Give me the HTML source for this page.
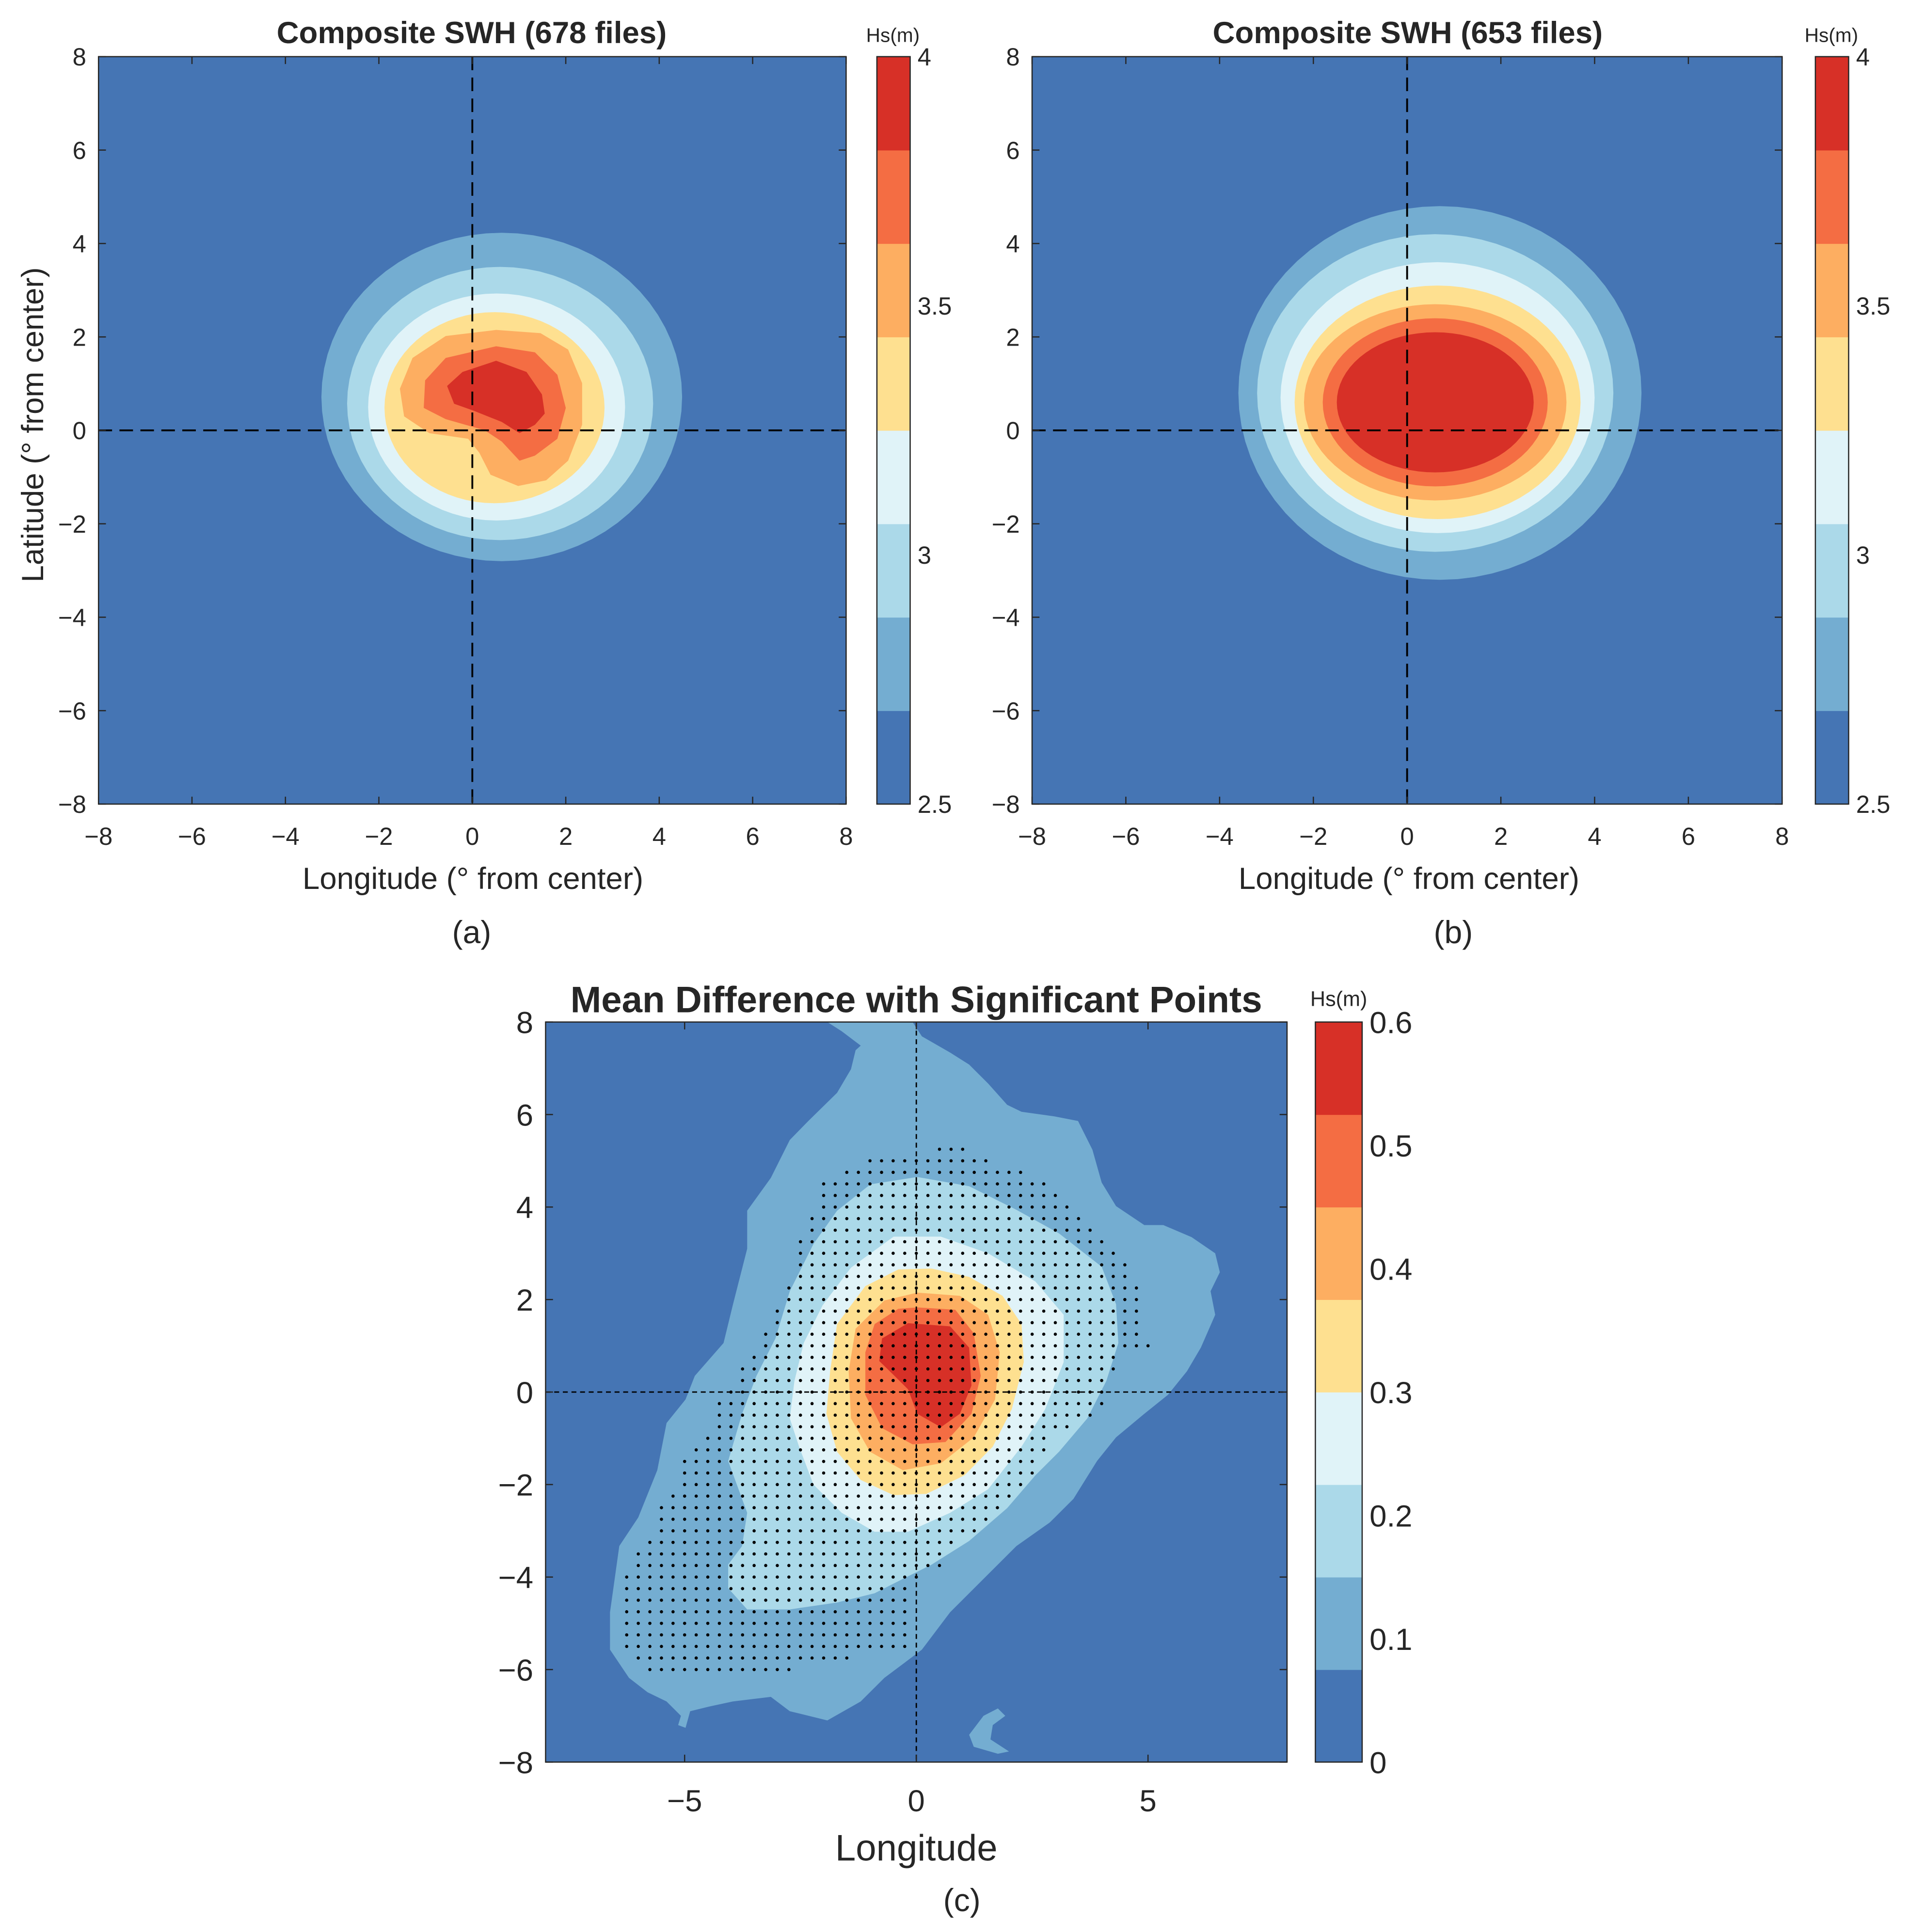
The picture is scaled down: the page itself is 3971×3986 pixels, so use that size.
<!DOCTYPE html>
<html><head><meta charset="utf-8"><style>
html,body{margin:0;padding:0;background:#fff;}
svg{display:block;}
text{font-family:"Liberation Sans",sans-serif;fill:#262626;}
</style></head><body>
<svg id="fig" width="3971" height="3986" viewBox="0 0 1563 1569" preserveAspectRatio="none" xmlns="http://www.w3.org/2000/svg">
<rect x="0" y="0" width="1563" height="1569" fill="#fff"/>
<defs>
<clipPath id="clipA"><rect x="80" y="46" width="607" height="607"/></clipPath>
<clipPath id="clipB"><rect x="838" y="46" width="609" height="607"/></clipPath>
<clipPath id="clipC"><rect x="443" y="830" width="602" height="601"/></clipPath>
</defs>
<g id="root"></g>
</svg>
<script>
// ---- data ----
const colorsAB = ["#4575b4","#74add1","#abd9e9","#e0f3f8","#fee090","#fdae61","#f46d43","#d73027"];
const cbTicksAB = [2.5,3,3.5,4];
const cbTicksC = [0,0.1,0.2,0.3,0.4,0.5,0.6];
const axisTicks = [-8,-6,-4,-2,0,2,4,6,8];
const xTicksC = [-5,0,5];
// Panel a ellipse-like levels: [lonMin, lonMax, latMin, latMax]
const levelsA = [[-3.23,4.49,-2.8,4.23],[-2.68,3.87,-2.35,3.5],[-2.23,3.27,-1.93,2.93],[-1.88,2.83,-1.56,2.53]];
const polyA5 = [[0.51,2.15],[1.46,2.08],[2.05,1.73],[2.35,1.01],[2.35,0.12],[2.05,-0.65],[1.58,-1.07],[0.98,-1.19],[0.39,-0.95],[0.15,-0.48],[-0.09,-0.18],[-0.92,-0.06],[-1.46,0.3],[-1.55,0.89],[-1.28,1.55],[-0.57,2.02]];
const polyA6 = [[0.51,1.8],[1.34,1.67],[1.82,1.19],[2.0,0.48],[1.82,-0.18],[1.34,-0.54],[1.01,-0.65],[0.63,-0.24],[0.27,0],[-0.57,0.24],[-1.04,0.48],[-1.01,1.07],[-0.57,1.55]];
const polyA7 = [[0.51,1.49],[1.16,1.25],[1.49,0.77],[1.55,0.36],[1.34,0.12],[1.01,-0.06],[0.63,0.18],[0.03,0.42],[-0.39,0.57],[-0.54,0.95],[-0.21,1.25]];
// Panel b levels
const levelsB = [[-3.6,5.0,-3.2,4.8],[-3.2,4.4,-2.6,4.2],[-2.7,4.0,-2.2,3.6],[-2.4,3.7,-1.9,3.1],[-2.2,3.4,-1.5,2.7],[-1.8,3.0,-1.2,2.4],[-1.5,2.7,-0.9,2.1]];
// Panel c contours
const polyC1 = [[-1.92,8],[-0.08,8],[0.12,7.69],[0.73,7.34],[1.14,7.08],[1.55,6.67],[1.96,6.21],[2.27,6.06],[2.98,5.96],[3.49,5.86],[3.8,5.24],[4.0,4.53],[4.31,4.02],[4.92,3.61],[5.33,3.61],[5.94,3.35],[6.45,3.0],[6.55,2.59],[6.35,2.18],[6.45,1.67],[6.14,0.96],[5.84,0.45],[5.43,-0.06],[4.92,-0.47],[4.31,-0.98],[3.9,-1.49],[3.39,-2.31],[2.88,-2.82],[2.16,-3.33],[1.45,-4.04],[0.73,-4.76],[0.12,-5.57],[-0.29,-5.88],[-0.69,-6.18],[-1.2,-6.69],[-1.92,-7.1],[-2.73,-6.9],[-3.14,-6.59],[-3.96,-6.69],[-4.47,-6.8],[-4.88,-6.9],[-4.98,-7.26],[-5.14,-7.2],[-5.08,-7.0],[-5.39,-6.69],[-5.8,-6.49],[-6.2,-6.18],[-6.61,-5.57],[-6.61,-4.76],[-6.41,-3.33],[-6.0,-2.71],[-5.59,-1.69],[-5.39,-0.67],[-4.98,-0.16],[-4.78,0.35],[-4.16,1.06],[-3.96,1.88],[-3.65,3.1],[-3.65,3.92],[-3.14,4.63],[-2.73,5.45],[-2.33,5.86],[-1.71,6.47],[-1.41,6.98],[-1.31,7.39],[-1.2,7.49],[-1.61,7.8]];
const polyC1b = [[1.14,-7.41],[1.45,-7.0],[1.76,-6.84],[1.92,-7.0],[1.65,-7.2],[1.6,-7.51],[2.0,-7.77],[1.76,-7.82],[1.24,-7.67]];
const polyC2 = [[-0.99,4.49],[0.02,4.65],[1.14,4.45],[2.16,3.94],[3.08,3.43],[4.0,2.71],[4.31,1.9],[4.36,1.06],[4.1,0.24],[3.69,-0.57],[3.08,-1.29],[2.57,-1.8],[1.96,-2.51],[1.14,-3.22],[0.33,-3.73],[-0.29,-4.04],[-0.9,-4.35],[-1.71,-4.55],[-2.73,-4.7],[-3.65,-4.7],[-4.06,-4.24],[-4.06,-3.73],[-3.76,-3.33],[-3.65,-2.61],[-4.06,-1.49],[-3.76,-0.47],[-3.45,0.35],[-3.04,1.16],[-2.73,2.18],[-2.22,3.2],[-1.71,3.92]];
const polyC3 = [[-0.49,3.36],[0.53,3.36],[1.55,3.0],[2.57,2.39],[3.18,1.67],[3.18,0.65],[2.78,-0.37],[2.27,-1.18],[1.55,-2.1],[0.73,-2.61],[-0.18,-3.02],[-0.9,-3.02],[-1.61,-2.61],[-2.22,-2.0],[-2.53,-1.18],[-2.73,-0.57],[-2.63,0.24],[-2.43,1.06],[-2.02,1.88],[-1.41,2.69]];
const polyC4 = [[0.33,2.67],[1.14,2.49],[1.86,2.08],[2.27,1.47],[2.32,0.65],[2.06,-0.37],[1.65,-1.18],[1.04,-1.8],[0.22,-2.2],[-0.49,-2.23],[-1.2,-1.9],[-1.71,-1.29],[-1.94,-0.47],[-1.86,0.45],[-1.71,1.47],[-1.1,2.29],[-0.39,2.65]];
const polyC5 = [[0.02,2.15],[0.94,2.08],[1.55,1.67],[1.8,0.86],[1.7,-0.16],[1.24,-0.98],[0.53,-1.54],[-0.29,-1.69],[-1.0,-1.29],[-1.41,-0.57],[-1.46,0.45],[-1.31,1.37],[-0.69,1.98]];
const polyC6 = [[0.02,1.83],[0.84,1.78],[1.24,1.27],[1.39,0.35],[1.19,-0.47],[0.63,-1.08],[-0.08,-1.13],[-0.74,-0.78],[-1.1,-0.06],[-1.1,0.86],[-0.9,1.47],[-0.39,1.8]];
const polyC7 = [[-0.18,1.49],[0.73,1.42],[1.14,0.96],[1.19,0.14],[0.94,-0.47],[0.53,-0.76],[0.02,-0.47],[-0.18,0.06],[-0.49,0.37],[-0.8,0.67],[-0.74,1.16]];
const sigRegion = [[0.43,5.31],[1.04,5.31],[1.55,5.04],[2.27,4.78],[2.78,4.53],[3.08,4.27],[3.59,3.76],[4.1,3.24],[4.51,2.84],[4.82,2.22],[4.82,1.51],[5.02,1.0],[4.51,0.8],[4.2,0.29],[4.0,-0.27],[3.8,-0.52],[2.98,-0.98],[2.47,-1.8],[2.27,-2.2],[1.65,-2.82],[0.94,-3.22],[0.53,-3.73],[-0.08,-4.14],[-0.18,-5.57],[-1.51,-5.78],[-2.33,-5.98],[-4.98,-6.24],[-6.0,-5.98],[-6.25,-5.73],[-6.25,-3.94],[-6.0,-3.43],[-5.76,-3.22],[-5.51,-2.41],[-5.24,-2.0],[-4.98,-1.39],[-4.73,-1.18],[-4.49,-0.78],[-4.27,-0.27],[-3.76,0.55],[-3.24,1.27],[-3.04,1.78],[-2.73,2.29],[-2.47,3.51],[-2.22,4.02],[-2.02,4.49],[-1.71,4.78],[-0.99,5.02],[-0.29,5.02]];
const sigStep = [0.25];

// ---- drawing ----
const NS = "http://www.w3.org/2000/svg";
const root = document.getElementById('root');
function mk(tag, attrs, parent, txt){
  const e = document.createElementNS(NS, tag);
  for (const k in attrs) e.setAttribute(k, attrs[k]);
  if (txt !== undefined) e.textContent = txt;
  (parent || root).appendChild(e);
  return e;
}
function axis(x0,y0,w,h){
  return {x:v=>x0+(v+8)/16*w, y:v=>y0+(8-v)/16*h, x0:x0,y0:y0,w:w,h:h};
}
function ellipsePts(ax, L){
  const cx=(L[0]+L[1])/2, cy=(L[2]+L[3])/2, rx=(L[1]-L[0])/2, ry=(L[3]-L[2])/2;
  const pts=[];
  for(let i=0;i<72;i++){const t=i/72*2*Math.PI; pts.push(ax.x(cx+rx*Math.cos(t)).toFixed(2)+','+ax.y(cy+ry*Math.sin(t)).toFixed(2));}
  return pts.join(' ');
}
function polyPts(ax, P){ return P.map(p=>ax.x(p[0]).toFixed(2)+','+ax.y(p[1]).toFixed(2)).join(' '); }
function inPoly(x,y,P){
  let ins=false;
  for(let i=0,j=P.length-1;i<P.length;j=i++){
    const xi=P[i][0],yi=P[i][1],xj=P[j][0],yj=P[j][1];
    if(((yi>y)!==(yj>y)) && (x < (xj-xi)*(y-yi)/(yj-yi)+xi)) ins=!ins;
  }
  return ins;
}
function frame(ax, g, dashW, dash){
  let l = mk('line',{x1:ax.x(0),y1:ax.y0,x2:ax.x(0),y2:ax.y0+ax.h,stroke:'#000','stroke-width':dashW,'stroke-dasharray':dash},g);
   
  l = mk('line',{x1:ax.x0,y1:ax.y(0),x2:ax.x0+ax.w,y2:ax.y(0),stroke:'#000','stroke-width':dashW,'stroke-dasharray':dash},g);
   
}
function box(ax, name, ticksX, ticksY){
  const g = mk('g',{});
  
  
  mk('rect',{x:ax.x0,y:ax.y0,width:ax.w,height:ax.h,fill:'none',stroke:'#262626','stroke-width':1},g);
  ticksX.forEach(t=>{
    mk('line',{x1:ax.x(t),y1:ax.y0+ax.h,x2:ax.x(t),y2:ax.y0+ax.h-6,stroke:'#262626','stroke-width':1},g);
    mk('line',{x1:ax.x(t),y1:ax.y0,x2:ax.x(t),y2:ax.y0+6,stroke:'#262626','stroke-width':1},g);
  });
  ticksY.forEach(t=>{
    mk('line',{x1:ax.x0,y1:ax.y(t),x2:ax.x0+6,y2:ax.y(t),stroke:'#262626','stroke-width':1},g);
    mk('line',{x1:ax.x0+ax.w,y1:ax.y(t),x2:ax.x0+ax.w-6,y2:ax.y(t),stroke:'#262626','stroke-width':1},g);
  });
}
function fmt(t){ return (t<0?'\u2212':'')+Math.abs(t); }
function tickLabels(ax, name, ticksX, ticksY, fs, xOff, yOff){
  ticksX.forEach(t=>{
    const e = mk('text',{x:ax.x(t),y:ax.y0+ax.h+yOff,'font-size':fs,'text-anchor':'middle'},null,fmt(t));
     
  });
  ticksY.forEach(t=>{
    const e = mk('text',{x:ax.x0-xOff,y:ax.y(t)+fs*0.36,'font-size':fs,'text-anchor':'end'},null,fmt(t));
     
  });
}
function colorbar(name, x, y0, w, h, colors, ticks, tmin, tmax, fs){
  const g = mk('g',{});
  
  
  const n = colors.length, bh = h/n;
  colors.forEach((c,i)=>{ mk('rect',{x:x,y:y0+h-(i+1)*bh,width:w,height:bh+0.3,fill:c},g); });
  mk('rect',{x:x,y:y0,width:w,height:h,fill:'none',stroke:'#262626','stroke-width':1},g);
  ticks.forEach(t=>{
    const yy = y0 + h - (t-tmin)/(tmax-tmin)*h;
    const e = mk('text',{x:x+w+6,y:yy+fs*0.36,'font-size':fs},g,String(t));
     
  });
}
function txt(s, attrs, name){
  const e = mk('text', attrs, null, s);
   
  return e;
}

// ---------- Panel A ----------
const axA = axis(80,46,607,607);
const gA = mk('g',{'clip-path':'url(#clipA)'});
 
mk('rect',{x:axA.x0,y:axA.y0,width:axA.w,height:axA.h,fill:colorsAB[0]},gA);
levelsA.forEach((L,i)=>{
  const p = mk('polygon',{points:ellipsePts(axA,L),fill:colorsAB[i+1]},gA);
   
});
[polyA5,polyA6,polyA7].forEach((P,i)=>{
  const p = mk('polygon',{points:polyPts(axA,P),fill:colorsAB[i+5]},gA);
   
});
frame(axA,gA,1.5,'11 6');
box(axA,'panel-a',axisTicks,axisTicks);
tickLabels(axA,'panel-a',axisTicks,axisTicks,20,10,33);
txt('Composite SWH (678 files)',{x:383,y:35,'font-size':25,'font-weight':'bold','text-anchor':'middle',fill:'#000'},'panel-a-title');
txt('Longitude (° from center)',{x:384,y:722,'font-size':25,'text-anchor':'middle'},'panel-a-x-axis-title');
txt('Latitude (° from center)',{x:0,y:0,'font-size':25,'text-anchor':'middle',transform:'translate(35,345) rotate(-90)'},'panel-a-y-axis-title');
colorbar('panel-a-colorbar',712,46,27,607,colorsAB,cbTicksAB,2.5,4,20);
txt('Hs(m)',{x:725,y:34,'font-size':16,'text-anchor':'middle'},'panel-a-colorbar-title');
txt('(a)',{x:383,y:766,'font-size':26,'text-anchor':'middle','font-family':'Liberation Serif, serif',fill:'#000'},'panel-a-label');

// ---------- Panel B ----------
const axB = axis(838,46,609,607);
const gB = mk('g',{'clip-path':'url(#clipB)'});
 
mk('rect',{x:axB.x0,y:axB.y0,width:axB.w,height:axB.h,fill:colorsAB[0]},gB);
levelsB.forEach((L,i)=>{
  const p = mk('polygon',{points:ellipsePts(axB,L),fill:colorsAB[i+1]},gB);
   
});
frame(axB,gB,1.5,'11 6');
box(axB,'panel-b',axisTicks,axisTicks);
tickLabels(axB,'panel-b',axisTicks,axisTicks,20,10,33);
txt('Composite SWH (653 files)',{x:1143,y:35,'font-size':25,'font-weight':'bold','text-anchor':'middle',fill:'#000'},'panel-b-title');
txt('Longitude (° from center)',{x:1144,y:722,'font-size':25,'text-anchor':'middle'},'panel-b-x-axis-title');
colorbar('panel-b-colorbar',1474,46,27,607,colorsAB,cbTicksAB,2.5,4,20);
txt('Hs(m)',{x:1487,y:34,'font-size':16,'text-anchor':'middle'},'panel-b-colorbar-title');
txt('(b)',{x:1180,y:766,'font-size':26,'text-anchor':'middle','font-family':'Liberation Serif, serif',fill:'#000'},'panel-b-label');

// ---------- Panel C ----------
const axC = axis(443,830,602,601);
const gC = mk('g',{'clip-path':'url(#clipC)'});
 
mk('rect',{x:axC.x0,y:axC.y0,width:axC.w,height:axC.h,fill:colorsAB[0]},gC);
[polyC1,polyC1b,polyC2,polyC3,polyC4,polyC5,polyC6,polyC7].forEach((P,i)=>{
  const lvl = i<2 ? 1 : i;
  const p = mk('polygon',{points:polyPts(axC,P),fill:colorsAB[lvl]},gC);
   
});
const gD = mk('g',{fill:'#000'},gC);
 
for(let lon=-8; lon<=8; lon+=sigStep[0]){
  for(let lat=-8; lat<=8; lat+=sigStep[0]){
    if(inPoly(lon,lat,sigRegion)){
      const d = mk('circle',{cx:axC.x(lon),cy:axC.y(lat),r:1.3},gD);
      
      
    }
  }
}
frame(axC,gC,1.1,'4 3');
box(axC,'panel-c',xTicksC,axisTicks);
tickLabels(axC,'panel-c',xTicksC,axisTicks,25,10,40);
txt('Mean Difference with Significant Points',{x:744,y:822,'font-size':30,'font-weight':'bold','text-anchor':'middle',fill:'#000'},'panel-c-title');
txt('Longitude',{x:744,y:1511,'font-size':30,'text-anchor':'middle'},'panel-c-x-axis-title');
colorbar('panel-c-colorbar',1068,830,38,601,colorsAB,cbTicksC,0,0.6,25);
txt('Hs(m)',{x:1087,y:817,'font-size':17,'text-anchor':'middle'},'panel-c-colorbar-title');
txt('(c)',{x:781,y:1552,'font-size':26,'text-anchor':'middle','font-family':'Liberation Serif, serif',fill:'#000'},'panel-c-label');
</script>
</body></html>
